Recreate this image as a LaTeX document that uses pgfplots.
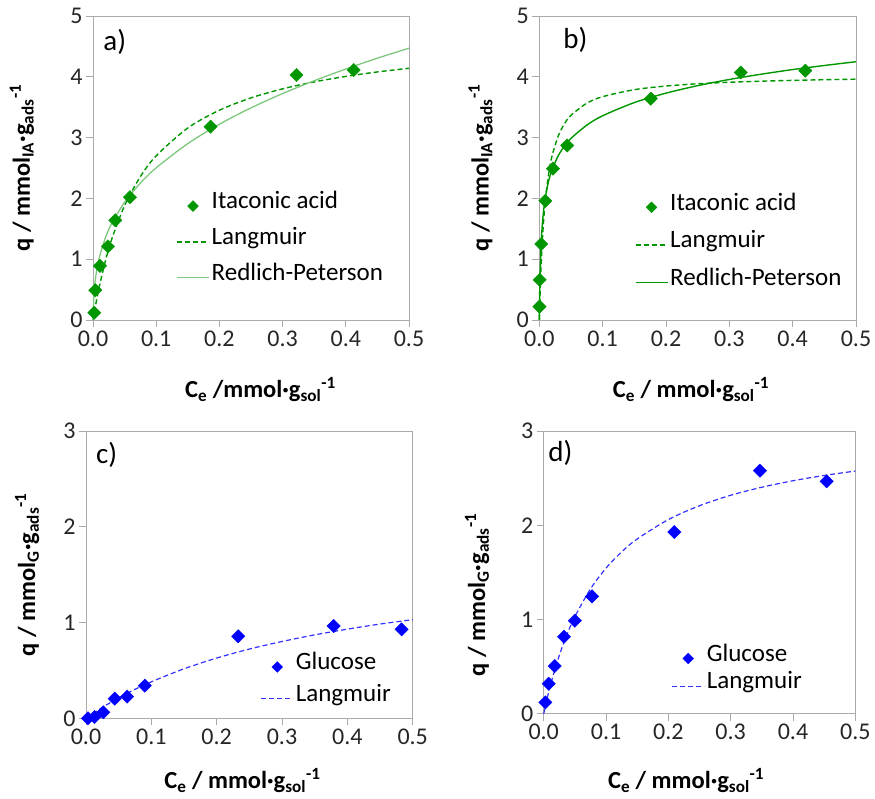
\documentclass[border=0pt]{standalone}
\usepackage{fontspec}
\setmainfont{Carlito}
\usepackage{pgfplots}
\pgfplotsset{compat=1.18}

\definecolor{mygreen}{RGB}{0,150,0}
\definecolor{lgreen}{RGB}{125,200,125}
\definecolor{myblue}{RGB}{0,0,255}
\definecolor{dblue}{RGB}{50,50,255}
\definecolor{axgray}{RGB}{170,170,170}

\pgfplotsset{
  panel/.style={
    scale only axis, anchor=south west, clip=false,
    xmin=0, xmax=0.5,
    xtick={0,0.1,0.2,0.3,0.4,0.5},
    xticklabel style={/pgf/number format/.cd, fixed, fixed zerofill, precision=1},
    /pgf/number format/assume math mode=true,
    tick align=outside, tick pos=left,
    major tick length=7pt,
    axis line style={axgray, line width=0.8pt},
    tick style={axgray, line width=0.8pt},
    tick label style={font=\fontsize{24}{28}\selectfont, text=black!85},
    label style={font=\bfseries\fontsize{24.5}{28}\selectfont},
    legend style={draw=none, fill=none, anchor=north west, inner xsep=0pt, inner ysep=0pt,
      font=\fontsize{25}{29}\selectfont, cells={anchor=west},
      nodes={inner sep=2pt, text height=0.7em, text depth=0.15em}},
    legend cell align=left,
  },
  mk/.style={only marks, mark=square*, mark options={rotate=45}, mark size=4.7pt},
  lineleg/.style={legend image code/.code={\draw[##1] (0pt,0pt) -- (32pt,0pt);}},
  markleg/.style={legend image code/.code={\draw[mark repeat=2, mark phase=2, ##1] plot coordinates {(0pt,0pt) (16pt,0pt) (32pt,0pt)};}},
}

\begin{document}
\begin{tikzpicture}[x=1pt,y=1pt]
\useasboundingbox (0,0) rectangle (875,799);

% ---------------- a)
\begin{axis}[panel, at={(93pt,479pt)}, width=316pt, height=304pt, ymin=0, ymax=5, ytick={0,1,2,3,4,5},
  xlabel={C\textsubscript{e} /mmol·g\textsubscript{sol}\textsuperscript{-1}},
  ylabel={q / mmol\textsubscript{IA}·g\textsubscript{ads}\textsuperscript{-1}},
  xlabel style={at={(axis description cs:0.53,-0.255)}, anchor=base},
  ylabel style={at={(axis description cs:-0.2,0.5)}, anchor=base},
  legend style={at={(axis description cs:0.263,0.434)}, nodes={minimum height=35.7pt}},
]
\addlegendimage{markleg, only marks, mark=square*, mark options={rotate=45}, mark size=3.8pt, mygreen}
\addlegendentry{Itaconic acid}
\addlegendimage{lineleg, mygreen, line width=1.4pt, dash pattern=on 5pt off 3pt}
\addlegendentry{Langmuir}
\addlegendimage{lineleg, lgreen, line width=1.3pt}
\addlegendentry{Redlich-Peterson}
\addplot[mk, mygreen, forget plot] coordinates {(0.002,0.12) (0.0037,0.49) (0.011,0.89) (0.0237,1.21) (0.0353,1.64) (0.0585,2.02) (0.186,3.18) (0.322,4.03) (0.4125,4.11)};
\addplot[mygreen, line width=1.4pt, dash pattern=on 5pt off 3pt, smooth, forget plot] coordinates {(0,0) (0.002,0.121) (0.005,0.292) (0.01,0.550) (0.02,0.986) (0.03,1.340) (0.05,1.882) (0.075,2.358) (0.1,2.700) (0.15,3.158) (0.2,3.450) (0.25,3.653) (0.3,3.802) (0.35,3.916) (0.4,4.006) (0.45,4.080) (0.5,4.140)};
\addplot[lgreen, line width=1.3pt, smooth, forget plot] coordinates {(0,0) (0.002,0.492) (0.005,0.762) (0.01,1.029) (0.02,1.362) (0.03,1.596) (0.05,1.936) (0.075,2.252) (0.1,2.503) (0.15,2.901) (0.2,3.22) (0.25,3.489) (0.3,3.724) (0.35,3.935) (0.4,4.128) (0.45,4.306) (0.5,4.47)};
\node[anchor=west, font=\fontsize{29}{32}\selectfont] at (axis description cs:0.022,0.914) {a)};
\end{axis}

% ---------------- b)
\begin{axis}[panel, at={(539.3pt,479pt)}, width=316.7pt, height=304pt, ymin=0, ymax=5, ytick={0,1,2,3,4,5},
  xlabel={C\textsubscript{e} / mmol·g\textsubscript{sol}\textsuperscript{-1}},
  ylabel={q / mmol\textsubscript{IA}·g\textsubscript{ads}\textsuperscript{-1}},
  xlabel style={at={(axis description cs:0.479,-0.255)}, anchor=base},
  ylabel style={at={(axis description cs:-0.16,0.5)}, anchor=base},
  legend style={at={(axis description cs:0.301,0.433)}, nodes={minimum height=37.5pt}},
]
\addlegendimage{markleg, only marks, mark=square*, mark options={rotate=45}, mark size=3.8pt, mygreen}
\addlegendentry{Itaconic acid}
\addlegendimage{lineleg, mygreen, line width=1.4pt, dash pattern=on 5pt off 3pt}
\addlegendentry{Langmuir}
\addlegendimage{lineleg, mygreen, line width=1.4pt}
\addlegendentry{Redlich-Peterson}
\addplot[mk, mygreen, forget plot] coordinates {(0.0003,0.22) (0.0006,0.66) (0.003,1.25) (0.0095,1.96) (0.0216,2.49) (0.044,2.87) (0.176,3.64) (0.318,4.07) (0.42,4.10)};
\addplot[mygreen, line width=1.4pt, dash pattern=on 5pt off 3pt, smooth, forget plot] coordinates {(0,0) (0.0005,0.192) (0.001,0.367) (0.002,0.673) (0.003,0.932) (0.005,1.347) (0.0075,1.731) (0.01,2.02) (0.015,2.424) (0.02,2.693) (0.03,3.03) (0.04,3.232) (0.05,3.367) (0.075,3.565) (0.1,3.673) (0.15,3.788) (0.2,3.848) (0.25,3.885) (0.3,3.910) (0.35,3.928) (0.4,3.941) (0.45,3.952) (0.5,3.961)};
\addplot[mygreen, line width=1.4pt, smooth, forget plot] coordinates {(0,0) (0.0005,0.389) (0.001,0.656) (0.002,1.022) (0.003,1.27) (0.005,1.601) (0.0075,1.865) (0.01,2.048) (0.015,2.299) (0.02,2.470) (0.03,2.703) (0.04,2.865) (0.05,2.987) (0.075,3.205) (0.1,3.359) (0.15,3.576) (0.2,3.731) (0.25,3.854) (0.3,3.956) (0.35,4.042) (0.4,4.119) (0.45,4.186) (0.5,4.248)};
\node[anchor=west, font=\fontsize{29}{32}\selectfont] at (axis description cs:0.065,0.921) {b)};
\end{axis}

% ---------------- c)
\begin{axis}[panel, at={(86pt,80.7pt)}, width=326.7pt, height=287.3pt, ymin=0, ymax=3, ytick={0,1,2,3},
  xlabel={C\textsubscript{e} / mmol·g\textsubscript{sol}\textsuperscript{-1}},
  ylabel={q / mmol\textsubscript{G}·g\textsubscript{ads}\textsuperscript{-1}},
  xlabel style={at={(axis description cs:0.479,-0.245)}, anchor=base},
  ylabel style={at={(axis description cs:-0.156,0.5)}, anchor=base},
  legend style={at={(axis description cs:0.534,0.234)}, nodes={minimum height=31.6pt}},
]
\addlegendimage{markleg, only marks, mark=square*, mark options={rotate=45}, mark size=3.8pt, myblue}
\addlegendentry{Glucose}
\addlegendimage{lineleg, dblue, line width=1.2pt, dash pattern=on 5pt off 3pt}
\addlegendentry{Langmuir}
\addplot[mk, myblue, forget plot] coordinates {(0.003,0.0) (0.013,0.014) (0.0265,0.063) (0.044,0.205) (0.063,0.226) (0.090,0.341) (0.233,0.856) (0.379,0.964) (0.483,0.929)};
\addplot[dblue, line width=1.2pt, dash pattern=on 5pt off 3pt, smooth, forget plot] coordinates {(0,0) (0.025,0.113) (0.05,0.213) (0.075,0.302) (0.1,0.381) (0.15,0.517) (0.2,0.629) (0.25,0.723) (0.3,0.802) (0.35,0.871) (0.4,0.931) (0.45,0.984) (0.5,1.030)};
\node[anchor=west, font=\fontsize{29}{32}\selectfont] at (axis description cs:0.02,0.916) {c)};
\end{axis}

% ---------------- d)
\begin{axis}[panel, at={(543.7pt,85.3pt)}, width=311.6pt, height=282.7pt, ymin=0, ymax=3, ytick={0,1,2,3},
  xlabel={C\textsubscript{e} / mmol·g\textsubscript{sol}\textsuperscript{-1}},
  ylabel={q / mmol\textsubscript{G}·g\textsubscript{ads}\textsuperscript{-1}},
  xlabel style={at={(axis description cs:0.457,-0.264)}, anchor=base},
  ylabel style={at={(axis description cs:-0.188,0.42)}, anchor=base},
  legend style={at={(axis description cs:0.41,0.245)}, nodes={minimum height=27.7pt}},
]
\addlegendimage{markleg, only marks, mark=square*, mark options={rotate=45}, mark size=3.8pt, myblue}
\addlegendentry{Glucose}
\addlegendimage{lineleg, dblue, line width=1.2pt, dash pattern=on 5pt off 3pt}
\addlegendentry{Langmuir}
\addplot[mk, myblue, forget plot] coordinates {(0.0027,0.120) (0.008,0.318) (0.0176,0.506) (0.0326,0.817) (0.050,0.987) (0.0775,1.245) (0.2096,1.928) (0.347,2.579) (0.454,2.466)};
\addplot[dblue, line width=1.2pt, dash pattern=on 5pt off 3pt, smooth, forget plot] coordinates {(0,0) (0.005,0.147) (0.01,0.281) (0.02,0.515) (0.03,0.713) (0.04,0.883) (0.05,1.030) (0.075,1.324) (0.1,1.545) (0.125,1.717) (0.15,1.854) (0.2,2.06) (0.25,2.207) (0.3,2.318) (0.35,2.403) (0.4,2.472) (0.45,2.528) (0.5,2.575)};
\node[anchor=west, font=\fontsize{29}{32}\selectfont] at (axis description cs:0.004,0.922) {d)};
\end{axis}
\end{tikzpicture}
\end{document}
